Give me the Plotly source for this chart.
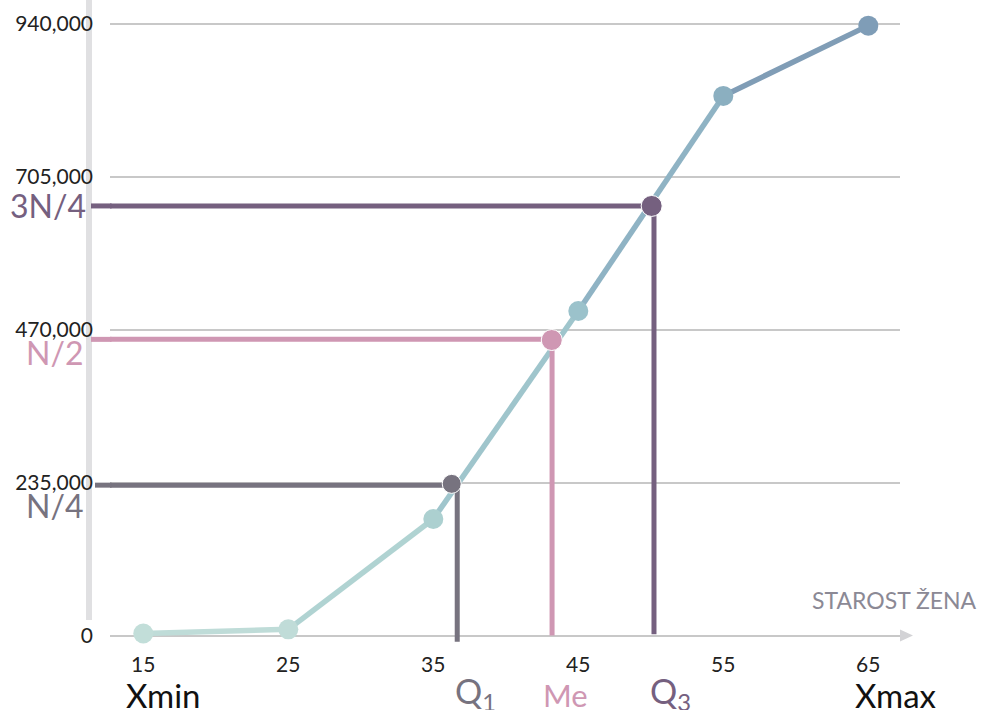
import plotly.graph_objects as go

# ---------------- data ----------------
ages = [15, 25, 35, 45, 55, 65]
cumulative = [3000, 9500, 179000, 498500, 829000, 937000]
segment_colors = ["#bfdcd8", "#b0d3d2", "#9fc5cc", "#8fb3c4", "#809db6"]
point_colors = ["#c2ded9", "#c0dcd8", "#acd0d0", "#9bc2cb", "#8bafc0", "#7f9db7"]

y_ticks = [0, 235000, 470000, 705000, 940000]
x_ticks = [15, 25, 35, 45, 55, 65]

q_names = ["Q1", "Me", "Q3"]
q_marker_x = [36.27, 43.17, 50.06]
q_marker_y = [233000, 454000, 660000]
q_line_x = [36.65, 43.19, 50.22]
q_line_y = [231000, 455000, 660000]
q_line_bottom = [-9500, 0, 2000]
q_colors = ["#77737f", "#cf97b3", "#75607f"]
q_marker_sizes = [19, 21, 21]

y_labels = ["N/4", "N/2", "3N/4"]
bottom_labels = ["Xmin", "Q<sub>1</sub>", "Me", "Q<sub>3</sub>", "Xmax"]
axis_title = "STAROST ŽENA"

# ---------------- layout geometry (pixels) ----------------
W, H = 984, 710
L, R, T, B = 110, 900, 10, 650
PW, PH = R - L, B - T
x_range = [12.703, 67.186]
y_range = [-22280, 961050]

def px(x):
    return (x - L) / PW

def py(y):
    return (B - y) / PH

FONT = "Lato, 'Open Sans', sans-serif"

fig = go.Figure()

# curve segments (gradient look)
for i in range(len(ages) - 1):
    fig.add_trace(go.Scatter(
        x=ages[i:i + 2], y=cumulative[i:i + 2], mode="lines",
        line=dict(color=segment_colors[i], width=5.5),
        hoverinfo="skip", showlegend=False))

# quartile reference lines (inside plot part)
for i in range(3):
    fig.add_trace(go.Scatter(
        x=[x_range[0], q_line_x[i], q_line_x[i]],
        y=[q_line_y[i], q_line_y[i], q_line_bottom[i]],
        mode="lines", line=dict(color=q_colors[i], width=5),
        hoverinfo="skip", showlegend=False))

# curve markers
fig.add_trace(go.Scatter(
    x=ages, y=cumulative, mode="markers",
    marker=dict(size=20, color=point_colors, opacity=1),
    hoverinfo="skip", showlegend=False))

# quartile markers
fig.add_trace(go.Scatter(
    x=q_marker_x, y=q_marker_y, mode="markers",
    marker=dict(size=q_marker_sizes, color=q_colors, opacity=1),
    hoverinfo="skip", showlegend=False))

shapes = []
# grey vertical band at left
shapes.append(dict(type="rect", xref="paper", yref="paper",
                   x0=px(86), x1=px(92), y0=py(620), y1=py(0),
                   fillcolor="#e0e0e2", line=dict(width=0), layer="below"))
# stubs of the horizontal reference lines outside plot area
stub_start = [95, 91, 91]
for i in range(3):
    shapes.append(dict(type="line", xref="paper", yref="y",
                       x0=px(stub_start[i]), x1=0.002, y0=q_line_y[i], y1=q_line_y[i],
                       line=dict(color=q_colors[i], width=5), layer="above"))
# arrow head on x axis
shapes.append(dict(type="path", xref="paper", yref="y",
                   xsizemode="pixel", ysizemode="pixel",
                   xanchor=1, yanchor=0,
                   path="M 0,6 L 13,0 L 0,-6 Z",
                   fillcolor="#d3d3d6", line=dict(width=0), layer="below"))

annotations = []
# left labels
left_label_pos = [(85, 505), (85, 352), (88, 205)]
for i in range(3):
    xr, yc = left_label_pos[i]
    annotations.append(dict(text=y_labels[i], xref="paper", yref="paper",
                            x=px(xr), y=py(yc), xanchor="right", yanchor="middle",
                            showarrow=False,
                            font=dict(family=FONT, size=32, color=q_colors[i])))
# bottom labels
bottom_pos = [124, 453, 541, 648, 853]
bottom_sizes = [33, 34, 31, 34, 33]
bottom_y = [695, 693, 695, 693, 695]
bottom_colors = ["#111111", q_colors[0], q_colors[1], q_colors[2], "#111111"]
for i, t in enumerate(bottom_labels):
    annotations.append(dict(text=t, xref="paper", yref="paper",
                            x=px(bottom_pos[i]), y=py(bottom_y[i]), xanchor="left", yanchor="middle",
                            showarrow=False,
                            font=dict(family=FONT, size=bottom_sizes[i], color=bottom_colors[i])))
# axis title
annotations.append(dict(text=axis_title, xref="paper", yref="paper",
                        x=px(979), y=py(600), xanchor="right", yanchor="middle",
                        showarrow=False,
                        font=dict(family=FONT, size=23, color="#8b8995")))

fig.update_layout(
    width=W, height=H, autosize=False,
    margin=dict(l=L, r=W - R, t=T, b=H - B, pad=0),
    paper_bgcolor="white", plot_bgcolor="white",
    showlegend=False,
    shapes=shapes, annotations=annotations,
    xaxis=dict(range=x_range, tickvals=x_ticks, showgrid=False, zeroline=False,
               showline=False, ticks="", ticklabelstandoff=0,
               tickfont=dict(family=FONT, size=21, color="#222222"), fixedrange=True),
    yaxis=dict(range=y_range, tickvals=y_ticks, tickformat=",", showgrid=True,
               gridcolor="#c8c8c8", gridwidth=2, zeroline=False, showline=False,
               ticks="", ticklabelstandoff=16,
               tickfont=dict(family=FONT, size=21, color="#222222"), fixedrange=True),
)

fig.write_html("out.html", config={"displayModeBar": False},
               post_script="document.body.style.margin='0';document.body.style.overflow='hidden';")
